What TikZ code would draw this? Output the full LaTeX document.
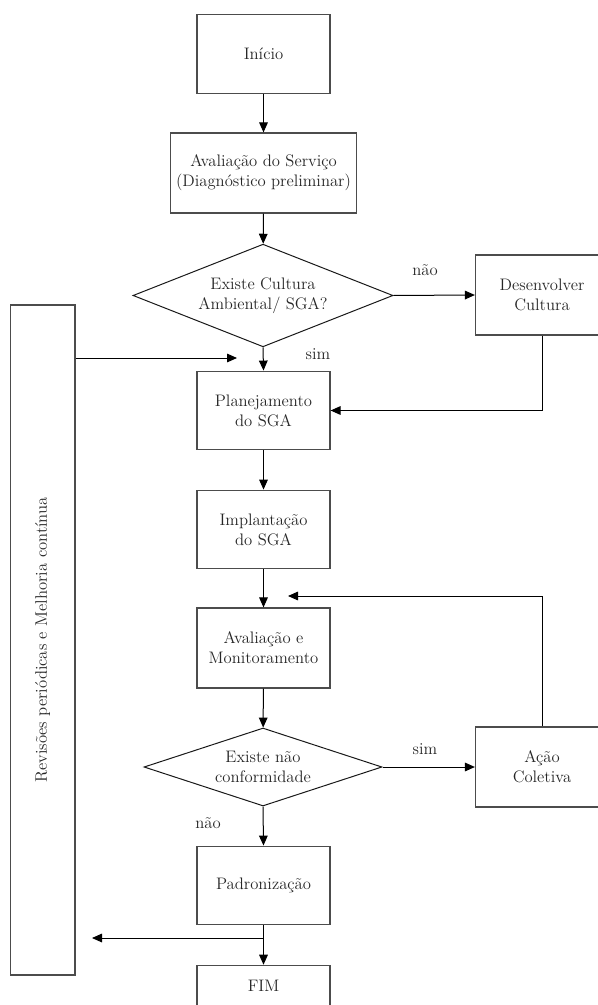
\documentclass[tikz,border=0pt]{standalone}
\usepackage{fontspec}
\usepackage{xcolor}
\usepackage{tikz}
\usetikzlibrary{positioning,arrows.meta,shapes.geometric}

\begin{document}
\begin{tikzpicture}[x=0.75pt, y=-0.75pt, font=\fontsize{12.5}{15}\selectfont,
  blk/.style={draw=black!70, line width=0.9pt, minimum width=99.75pt, minimum height=59pt, align=center, inner sep=2pt, text=black!85},
  dec/.style={diamond, draw=black!90, line width=0.75pt, align=center, inner sep=0pt, text=black!85},
  arr/.style={line width=0.75pt, -{Triangle[length=7.5pt,width=6.5pt]}},
  lbl/.style={text=black!85}]
  \useasboundingbox (0,0) rectangle (598,1005);

  % main column
  \node[blk] (inicio) at (263.5,54) {Início};
  \node[blk, minimum width=140pt, minimum height=60pt] (aval) at (263.5,173) {Avaliação do Serviço\\(Diagnóstico preliminar)};
  \node[dec, aspect=2.5, minimum width=195pt, minimum height=77pt] (cult) at (263,295.5) {Existe Cultura\\Ambiental/ SGA?};
  \node[blk, minimum height=60pt] (desenv) at (542,295) {Desenvolver\\Cultura};
  \node[blk] (plan) at (263.5,410.5) {Planejamento\\do SGA};
  \node[blk] (impl) at (263.5,529.5) {Implantação\\do SGA};
  \node[blk, minimum height=60pt] (avmon) at (263.5,648) {Avaliação e\\Monitoramento};
  \node[dec, aspect=3.05, minimum width=178.5pt, minimum height=58.5pt] (naoconf) at (263,767) {Existe não\\conformidade};
  \node[blk, minimum height=60pt] (acao) at (542,767) {Ação\\Coletiva};
  \node[blk] (padr) at (263.5,885.5) {Padronização};
  \node[blk, minimum height=31pt] (fim) at (263.5,986) {FIM};

  % side bar
  \node[blk, minimum width=48.4pt, minimum height=502.5pt] (bar) at (42.75,640) {};
  \node[lbl, rotate=90, font=\fontsize{12.5}{15}\selectfont\addfontfeature{LetterSpace=22}] (barlbl) at (bar) {Revisões periódicas e Melhoria contínua};

  % labels
  \node[lbl] (nao1) at (425,270) {não};
  \node[lbl] (sim1) at (318,354) {sim};
  \node[lbl] (sim2) at (425,749) {sim};
  \node[lbl] (nao2) at (208,823) {não};

  \coordinate (in1) at (237,358);
  \coordinate (in2) at (288,596);
  \coordinate (split) at (263.5,938);
  \coordinate (out1) at (92,938);

  % connectors
  \draw[arr] (inicio) -- (aval);
  \draw[arr] (aval) -- (cult);
  \draw[arr] (cult.east) -- (desenv.west);
  \draw[arr] (cult.south) -- (plan.north);
  \draw[arr] (desenv.south) |- (plan.east);
  \draw[arr] (bar.east |- in1) -- (in1);
  \draw[arr] (plan) -- (impl);
  \draw[arr] (impl) -- (avmon);
  \draw[arr] (avmon) -- (naoconf);
  \draw[arr] (naoconf.east) -- (acao.west);
  \draw[arr] (acao.north) |- (in2);
  \draw[arr] (naoconf.south) -- (padr.north);
  \draw[arr] (padr) -- (fim);
  \draw[arr] (split) -- (out1);
\end{tikzpicture}
\end{document}
